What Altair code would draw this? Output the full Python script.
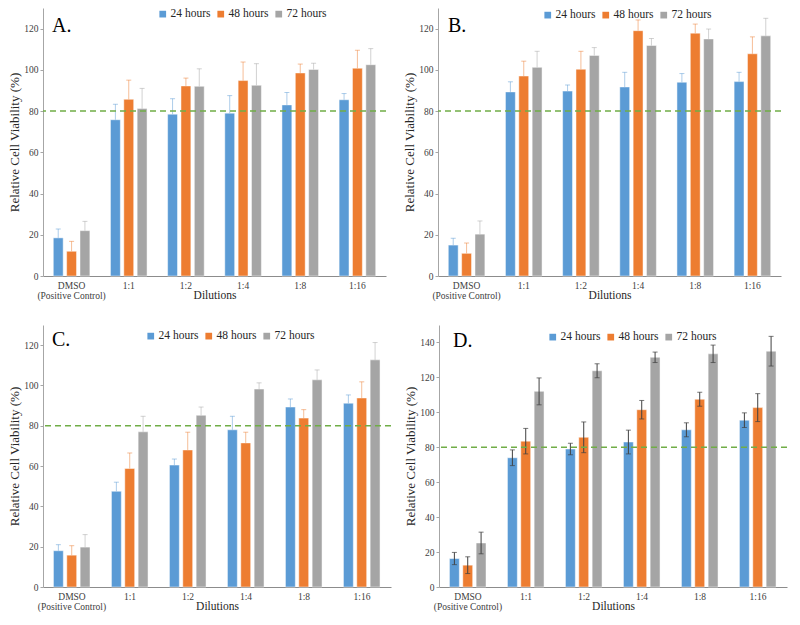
import altair as alt
import pandas as pd

CATEGORIES = ["DMSO (Positive Control)", "1:1", "1:2", "1:4", "1:8", "1:16"]
SERIES = ["24 hours", "48 hours", "72 hours"]
COLORS = ["#5B9BD5", "#ED7D31", "#A5A5A5"]
THRESHOLD = [80]

A_24 = [18.5, 75.8, 78.5, 79.0, 83.0, 85.5]
A_48 = [12.0, 85.7, 92.2, 94.8, 98.5, 100.8]
A_72 = [22.0, 81.2, 92.0, 92.5, 100.2, 102.5]
A_24_ERR = [4.3, 7.5, 7.5, 8.5, 6.0, 3.0]
A_48_ERR = [4.8, 9.3, 3.8, 9.0, 4.3, 8.7]
A_72_ERR = [4.5, 9.8, 8.5, 10.5, 3.0, 7.8]

B_24 = [15.0, 89.3, 89.7, 91.7, 94.0, 94.3]
B_48 = [11.0, 97.0, 100.3, 119.0, 117.8, 107.8]
B_72 = [20.3, 101.2, 107.0, 111.8, 115.0, 116.5]
B_24_ERR = [3.3, 4.9, 3.0, 7.1, 4.2, 4.5]
B_48_ERR = [5.0, 7.2, 8.7, 5.2, 4.4, 8.2]
B_72_ERR = [6.4, 7.8, 3.8, 3.4, 4.8, 8.5]

C_24 = [18.0, 47.5, 60.5, 78.0, 89.3, 91.2]
C_48 = [15.8, 58.8, 68.0, 71.5, 83.8, 93.8]
C_72 = [19.8, 77.0, 85.2, 98.2, 102.8, 112.7]
C_24_ERR = [3.0, 4.5, 3.0, 6.7, 4.0, 4.1]
C_48_ERR = [4.7, 7.7, 8.8, 5.3, 4.2, 8.0]
C_72_ERR = [6.2, 7.7, 4.1, 3.1, 4.9, 8.6]

D_24 = [16.3, 74.0, 79.0, 83.0, 90.0, 95.5]
D_48 = [12.5, 83.5, 85.7, 101.5, 107.5, 102.7]
D_72 = [25.2, 112.0, 123.8, 131.5, 133.5, 135.0]
D_24_ERR = [3.5, 4.5, 3.3, 6.8, 4.0, 4.2]
D_48_ERR = [4.8, 7.3, 8.8, 5.3, 4.0, 8.0]
D_72_ERR = [6.2, 7.7, 4.0, 3.0, 5.0, 8.5]

SERIF = "Liberation Serif"


def make_df(vals, errs, two_sided):
    rows = []
    for s, v_list, e_list in zip(SERIES, vals, errs):
        for c, v, e in zip(CATEGORIES, v_list, e_list):
            rows.append({"dilution": c, "series": s, "value": v,
                         "lo": v - e if two_sided else v, "hi": v + e})
    return pd.DataFrame(rows)


def panel(letter, vals, errs, two_sided, ymax, yticks, w, h, legx, legy, letx, lety):
    df = make_df(vals, errs, two_sided)
    base = alt.Chart(df)
    x = alt.X("dilution:N", sort=CATEGORIES,
              scale=alt.Scale(paddingInner=0.36, paddingOuter=0.18),
              axis=alt.Axis(title="Dilutions", labelAngle=0, ticks=False,
                            labelFont=SERIF, labelFontSize=9.5, labelColor="#404040",
                            labelPadding=4, labelLineHeight=10,
                            labelExpr="datum.value == 'DMSO (Positive Control)' ? ['DMSO', '(Positive Control)'] : datum.value",
                            domainColor="#8C8C8C",
                            titleFont=SERIF, titleFontSize=11.5, titleFontWeight="normal",
                            titleColor="#262626", titleY=22, titleBaseline="alphabetic"))
    xo = alt.XOffset("series:N", sort=SERIES,
                     scale=alt.Scale(paddingInner=0.26, paddingOuter=0))
    yscale = alt.Scale(domain=[0, ymax], nice=False)
    yaxis = alt.Axis(title="Relative Cell Viability (%)", values=yticks, grid=False,
                     tickSize=3, tickColor="#A6A6A6", domainColor="#A6A6A6",
                     labelFont=SERIF, labelFontSize=9.5, labelColor="#404040",
                     labelPadding=2, titlePadding=2, labelOverlap=False,
                     titleFont=SERIF, titleFontSize=13, titleFontWeight="normal",
                     titleColor="#262626")

    def Y(field):
        return alt.Y(field, scale=yscale, axis=yaxis)

    color = alt.Color("series:N", sort=SERIES,
                      scale=alt.Scale(domain=SERIES, range=COLORS),
                      legend=alt.Legend(title=None, orient="none", legendX=legx, legendY=legy,
                                        direction="horizontal", symbolType="square",
                                        symbolSize=45, symbolOpacity=1, symbolStrokeWidth=0,
                                        labelFont=SERIF, labelFontSize=11.5, labelColor="#262626",
                                        labelOffset=2, columnPadding=4))
    bars = base.mark_bar(stroke="white", strokeWidth=0.8, strokeOpacity=0.6).encode(
        x=x, xOffset=xo, y=Y("value:Q"), color=color)
    if two_sided:
        rule = base.mark_rule(color="#404040", strokeWidth=1).encode(
            x=x, xOffset=xo, y=Y("lo:Q"), y2="hi:Q")
        cap_hi = base.mark_tick(color="#404040", size=5, thickness=1).encode(
            x=x, xOffset=xo, y=Y("hi:Q"))
        cap_lo = base.mark_tick(color="#404040", size=5, thickness=1).encode(
            x=x, xOffset=xo, y=Y("lo:Q"))
        errs_layer = [rule, cap_hi, cap_lo]
    else:
        rule = base.mark_rule(strokeWidth=1, opacity=0.5).encode(
            x=x, xOffset=xo, y=Y("lo:Q"), y2="hi:Q", color=color)
        cap_hi = base.mark_tick(size=5, thickness=1, opacity=0.5).encode(
            x=x, xOffset=xo, y=Y("hi:Q"), color=color)
        errs_layer = [rule, cap_hi]
    thr = alt.Chart(pd.DataFrame({"t": THRESHOLD})).mark_rule(
        color="#70AD47", strokeDash=[6, 4], strokeWidth=1.5).encode(y=Y("t:Q"))
    lab = alt.Chart(pd.DataFrame({"l": [letter]})).mark_text(
        font=SERIF, fontSize=20, align="left", baseline="alphabetic", color="#000000").encode(
        text="l:N", x=alt.value(letx), y=alt.value(lety))
    return alt.layer(bars, *errs_layer, thr, lab).properties(width=w, height=h)


TICKS_120 = [0, 20, 40, 60, 80, 100, 120]
TICKS_140 = [0, 20, 40, 60, 80, 100, 120, 140]

pa = panel("A.", [A_24, A_48, A_72], [A_24_ERR, A_48_ERR, A_72_ERR], False, 130, TICKS_120,
           343, 268, 114, 0, 9, 24)
pb = panel("B.", [B_24, B_48, B_72], [B_24_ERR, B_48_ERR, B_72_ERR], False, 130, TICKS_120,
           343, 268, 104, 1, 10, 24)
pc = panel("C.", [C_24, C_48, C_72], [C_24_ERR, C_48_ERR, C_72_ERR], False, 130, TICKS_120,
           348, 262, 102, 5, 9, 21)
pd_ = panel("D.", [D_24, D_48, D_72], [D_24_ERR, D_48_ERR, D_72_ERR], True, 150, TICKS_140,
            348, 262, 108, 6, 14, 22)

top = alt.hconcat(pa, pb, spacing=16).resolve_scale(color="independent", x="independent", y="independent")
bottom = alt.hconcat(pc, pd_, spacing=12).resolve_scale(color="independent", x="independent", y="independent")
chart = alt.vconcat(top, bottom, spacing=24).resolve_scale(
    color="independent", x="independent", y="independent").properties(
    padding=0).configure(background="white", font=SERIF).configure_view(stroke=None).configure_axis(
    labelFont=SERIF, titleFont=SERIF).configure_legend(labelFont=SERIF)

chart.save("out.html", embed_options={"renderer": "svg", "actions": False})
